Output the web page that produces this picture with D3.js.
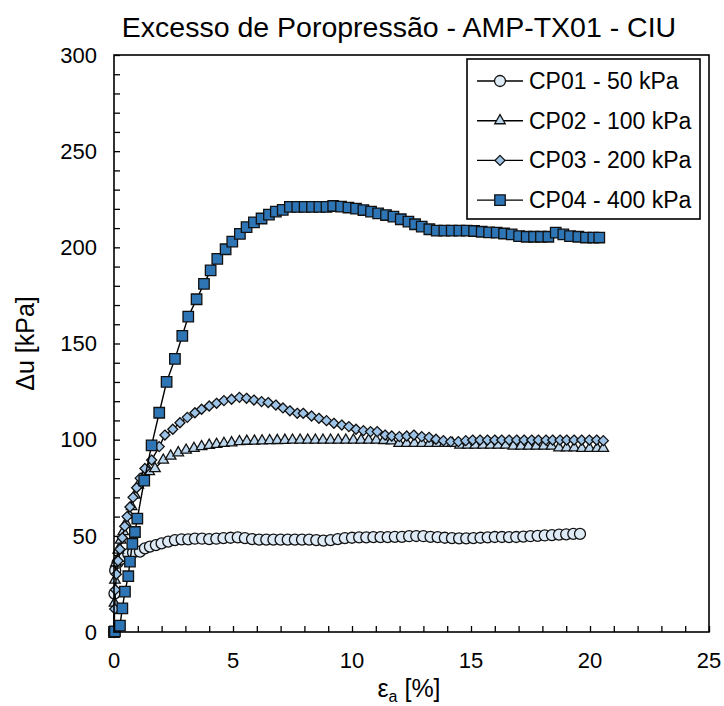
<!DOCTYPE html>
<html><head><meta charset="utf-8">
<script src="https://cdn.jsdelivr.net/npm/d3@7"></script>
<style>
html,body{margin:0;padding:0;background:#fff;}
svg{display:block;font-family:Arial,"Liberation Sans",sans-serif;}
</style></head>
<body><svg id="c" width="724" height="706"></svg>
<script>
// ---------- DATA ----------
const chartTitle = "Excesso de Poropressão - AMP-TX01 - CIU";
const seriesNames = ["CP01 - 50 kPa", "CP02 - 100 kPa", "CP03 - 200 kPa", "CP04 - 400 kPa"];
const xTicks = [0, 5, 10, 15, 20, 25];
const yTicks = [0, 50, 100, 150, 200, 250, 300];

const cp01Strain = [0,0.02,0.05,0.15,0.3,0.45,0.6,0.8,1.09,1.3,1.51,1.76,2.0,2.28,2.56,2.84,3.12,3.4,3.7,4.0,4.3,4.6,4.9,5.2,5.5,5.8,6.1,6.4,6.7,7.0,7.3,7.6,7.9,8.2,8.5,8.8,9.1,9.4,9.7,10.0,10.3,10.6,10.9,11.2,11.5,11.8,12.1,12.4,12.7,13.0,13.3,13.6,13.9,14.2,14.5,14.8,15.1,15.4,15.7,16.0,16.3,16.6,16.9,17.2,17.5,17.8,18.1,18.4,18.7,19.0,19.3,19.58];
const cp01Du = [0,20,32,36,38,39.5,40.5,41.3,41.8,43.5,44.4,45.2,46.1,47,47.8,48.2,48.2,48.5,48.5,48.3,48.5,48.8,49,49.2,48.8,48.3,48,48,48,48,48,48,48,48,47.8,47.5,47.8,48.3,48.8,49,49.2,49.2,49.3,49.3,49.3,49.5,49.5,49.8,49.9,49.8,49.5,49.3,49,48.8,48.7,48.7,48.8,49,49.2,49.4,49.4,49.3,49.4,49.6,49.8,50,50.2,50.4,50.6,50.8,51,51];

const cp02Strain = [0,0.02,0.04,0.08,0.18,0.28,0.39,0.5,0.64,0.74,0.88,1.02,1.23,1.48,1.72,2.07,2.38,2.7,3.03,3.36,3.68,4.0,4.31,4.62,4.94,5.27,5.58,5.9,6.22,6.54,6.86,7.18,7.5,7.82,8.14,8.46,8.78,9.1,9.42,9.74,10.06,10.38,10.7,11.02,11.34,11.66,11.98,12.3,12.62,12.94,13.26,13.58,13.9,14.22,14.54,14.86,15.18,15.5,15.82,16.14,16.46,16.78,17.1,17.42,17.74,18.06,18.38,18.7,19.02,19.34,19.66,19.98,20.3,20.56];
const cp02Du = [0,15,27,35.9,42.6,47.8,52.2,56.5,60.8,65.2,71.2,76.4,80.8,83.4,85,89.4,91.5,93.2,94.6,95.5,96.4,97.1,97.6,98.1,98.4,99,99.2,99.3,99.4,99.5,99.6,99.7,99.8,99.8,99.8,99.8,99.8,99.8,99.8,99.8,99.8,99.8,99.8,99.8,99.6,99.4,98.1,98.1,98.1,98.1,98.1,98.1,98.1,98.1,97.2,97.2,97.2,97.2,97.2,97.2,97.2,96.7,96.7,96.7,96.7,96.7,96.7,95.8,95.8,95.8,95.5,95.5,95.5,95.5];

const cp03Strain = [0,0.03,0.06,0.1,0.17,0.25,0.35,0.45,0.55,0.67,0.8,0.95,1.1,1.3,1.58,1.9,2.14,2.47,2.77,3.08,3.4,3.68,4.0,4.31,4.62,4.94,5.27,5.57,5.88,6.2,6.48,6.8,7.1,7.39,7.7,7.95,8.3,8.61,8.93,9.24,9.57,9.87,10.17,10.48,10.78,11.06,11.39,11.67,11.99,12.3,12.6,12.93,13.24,13.53,13.84,14.15,14.47,14.78,15.07,15.38,15.69,16.0,16.29,16.6,16.92,17.23,17.55,17.83,18.15,18.43,18.74,19.02,19.33,19.65,19.97,20.28,20.56];
const cp03Du = [0,12,22,30,37,43,49,55,60,65,70,75,80,85,89.4,96.4,102.4,105.4,108.8,111.6,114,115.8,117.5,118.9,120.3,121,122,121.5,120.6,119.8,119.3,118,116.5,115,113.7,113.7,112.3,111.1,109.9,108.5,107.6,106.8,105.4,104.7,104.2,104.2,102.4,101.9,101.6,101.9,102.4,101.6,101.2,100.2,99.5,99,99,99.5,99.8,99.8,99.8,99.8,99.8,99.8,99.8,99.8,99.8,99.8,99.8,99.8,99.8,99.8,99.8,99.8,99.8,99.8,99.5];

const cp04Strain = [0,0.04,0.25,0.35,0.46,0.6,0.67,0.77,0.88,0.98,1.27,1.58,1.9,2.21,2.56,2.87,3.12,3.47,3.78,4.06,4.34,4.69,4.97,5.29,5.57,5.88,6.2,6.51,6.8,7.09,7.39,7.7,8.01,8.32,8.63,8.93,9.21,9.54,9.85,10.17,10.48,10.8,11.1,11.43,11.74,12.05,12.37,12.65,12.93,13.25,13.56,13.88,14.19,14.51,14.82,15.13,15.45,15.76,16.08,16.39,16.71,17.02,17.34,17.65,17.94,18.25,18.56,18.88,19.16,19.51,19.83,20.14,20.39];
const cp04Du = [0,0.3,3.3,12.3,21,29,36.6,45.8,52,59,78.7,97,114,130,142,154,164,173,181,188,194,199,203,207,210.5,213,215,217,218.6,219.5,221,221,221,221,221,221,221.5,221.2,220.7,220.1,219.4,218.6,217.7,216.8,216,214.6,213.4,212,210.8,209.4,208.7,208.7,208.7,208.7,208.7,208.5,208.1,207.8,207.6,207.2,206.7,205.8,205.5,205.5,205.5,205.5,207.6,206.7,205.8,205.5,205.1,205.1,205.1];

const markerShapes = ["circle", "triangle", "diamond", "square"];
const markerFills = ["#DEEBF7", "#BDD7EE", "#9DC3E6", "#2E75B6"];

// ---------- CHART ----------
const svg = d3.select("#c");
const W = 724, H = 706;
const plot = {left: 114, right: 709, top: 55, bottom: 632};
const x = d3.scaleLinear().domain([0, 25]).range([plot.left, plot.right]);
const y = d3.scaleLinear().domain([0, 300]).range([plot.bottom, plot.top]);

svg.append("rect").attr("width", W).attr("height", H).attr("fill", "#fff");

const series = [
  {name: seriesNames[0], xs: cp01Strain, ys: cp01Du},
  {name: seriesNames[1], xs: cp02Strain, ys: cp02Du},
  {name: seriesNames[2], xs: cp03Strain, ys: cp03Du},
  {name: seriesNames[3], xs: cp04Strain, ys: cp04Du}
].map((s, i) => ({...s, shape: markerShapes[i], fill: markerFills[i], pts: s.xs.map((v, j) => [v, s.ys[j]])}));

// square-shaped diamond (rotated square)
const symDiamondSq = { draw(ctx, size) { const r = Math.sqrt(size / 2); ctx.moveTo(0, -r); ctx.lineTo(r, 0); ctx.lineTo(0, r); ctx.lineTo(-r, 0); ctx.closePath(); } };
const symTypes = {circle: d3.symbolCircle, triangle: d3.symbolTriangle, diamond: symDiamondSq, square: d3.symbolSquare};
const symSizes = {circle: 95, triangle: 48, diamond: 50, square: 110};
function symbolPath(shape) { return d3.symbol().type(symTypes[shape]).size(symSizes[shape])(); }

// axes with inward ticks
const xAxis = d3.axisBottom(x).tickValues(d3.range(0, 26, 1)).tickSize(-6).tickFormat("");
const yAxis = d3.axisLeft(y).tickValues(d3.range(0, 301, 10)).tickSize(-6).tickFormat("");
const gx = svg.append("g").attr("transform", `translate(0,${plot.bottom})`).call(xAxis);
const gy = svg.append("g").attr("transform", `translate(${plot.left},0)`).call(yAxis);
[gx, gy].forEach(g => { g.select(".domain").remove(); g.selectAll("line").attr("stroke", "#000").attr("stroke-width", 1.3); });

// tick labels
svg.append("g").selectAll("text").data(xTicks).join("text")
  .attr("x", d => x(d)).attr("y", 668).attr("text-anchor", "middle")
  .attr("font-size", 22).attr("fill", "#000").text(d => d);
svg.append("g").selectAll("text").data(yTicks).join("text")
  .attr("x", 97).attr("y", d => y(d)).attr("dy", "0.35em").attr("text-anchor", "end")
  .attr("font-size", 22).attr("fill", "#000").text(d => d);

// series
const line = d3.line().x(d => x(d[0])).y(d => y(d[1]));
series.forEach(s => {
  const g = svg.append("g");
  g.append("path").attr("d", line(s.pts)).attr("fill", "none").attr("stroke", "#000").attr("stroke-width", 1.4);
  g.selectAll("path.m").data(s.pts).join("path").attr("class", "m")
    .attr("transform", d => `translate(${x(d[0])},${y(d[1])})`)
    .attr("d", symbolPath(s.shape))
    .attr("fill", s.fill).attr("stroke", "#111").attr("stroke-width", 1.3);
});

// frame
svg.append("rect").attr("x", plot.left).attr("y", plot.top)
  .attr("width", plot.right - plot.left).attr("height", plot.bottom - plot.top)
  .attr("fill", "none").attr("stroke", "#000").attr("stroke-width", 1.6);

// title
svg.append("text").attr("x", 399).attr("y", 37).attr("text-anchor", "middle")
  .attr("font-size", 28.5).attr("fill", "#000").text(chartTitle);

// axis titles
const xt = svg.append("text").attr("x", 409).attr("y", 697).attr("text-anchor", "middle").attr("font-size", 25).attr("fill", "#000");
xt.append("tspan").text("ε");
xt.append("tspan").attr("font-size", 16).attr("dy", 5).text("a");
xt.append("tspan").attr("dy", -5).text(" [%]");
svg.append("text").attr("transform", `translate(34,${(plot.top + plot.bottom) / 2}) rotate(-90)`)
  .attr("text-anchor", "middle").attr("font-size", 25).attr("fill", "#000").text("Δu [kPa]");

// legend
const lg = svg.append("g");
lg.append("rect").attr("x", 467).attr("y", 59).attr("width", 233).attr("height", 160)
  .attr("fill", "#fff").attr("stroke", "#000").attr("stroke-width", 1.6);
series.forEach((s, i) => {
  const cy = 81 + i * 39.7;
  lg.append("line").attr("x1", 477).attr("x2", 523).attr("y1", cy).attr("y2", cy).attr("stroke", "#000").attr("stroke-width", 1.4);
  lg.append("path").attr("transform", `translate(500,${cy})`).attr("d", symbolPath(s.shape))
    .attr("fill", s.fill).attr("stroke", "#111").attr("stroke-width", 1.3);
  lg.append("text").attr("x", 529).attr("y", cy).attr("dy", "0.35em").attr("font-size", 23).attr("fill", "#000").text(s.name);
});
</script></body></html>
